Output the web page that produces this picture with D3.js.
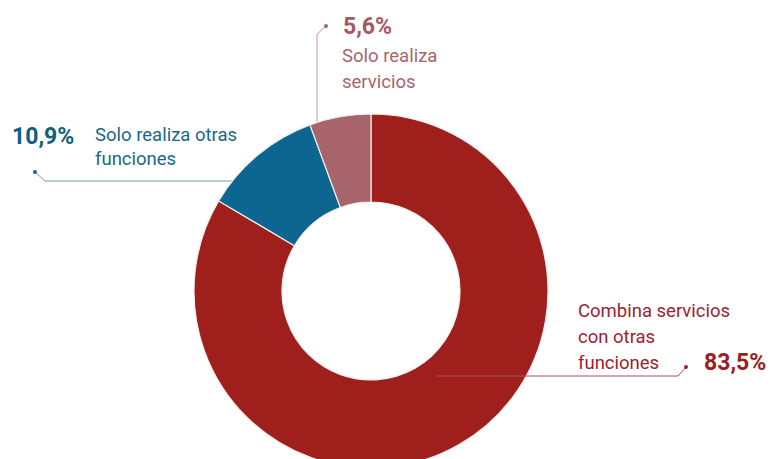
<!DOCTYPE html>
<html>
<head>
<meta charset="utf-8">
<script src="https://cdn.jsdelivr.net/npm/d3@7"></script>
<style>
  html, body { margin: 0; padding: 0; background: #ffffff; }
  svg { display: block; }
  text { font-family: Roboto, "Noto Sans", sans-serif; }
</style>
</head>
<body>
<svg id="chart" width="771" height="459"></svg>
<script>
// Shares of the three groups, in drawing order (clockwise from 12 o'clock)
const categories = [
  ["Combina servicios", "con otras", "funciones"],
  ["Solo realiza otras", "funciones"],
  ["Solo realiza", "servicios"]
];
const values = [83.5, 10.9, 5.6];
const valueLabels = ["83,5%", "10,9%", "5,6%"];
const sliceColors = ["#9e1f1b", "#0c668f", "#a7646b"];
const textColors = ["#9c2230", "#1a6889", "#a6656d"];
const valueColors = ["#9b1d1f", "#0f5f80", "#a25a64"];
const lineColors = ["#b04e5a", "#6f9bb2", "#c29ca1"];

const width = 771, height = 459;
const cx = 371, cy = 291;
const outerR = 177, innerR = 89;

const svg = d3.select("#chart");

const pie = d3.pie().sort(null).value(d => d);
const arcs = pie(values);
const arc = d3.arc().innerRadius(innerR).outerRadius(outerR);

const g = svg.append("g").attr("transform", `translate(${cx},${cy})`);

// Leader lines for the small slices sit behind the ring
const behind = g.append("g");

// Blue slice: horizontal leader off the left edge of the slice
{
  const y = -110;
  const xEdge = -Math.sqrt(outerR * outerR - y * y);
  const dotX = 35 - cx, dotY = 172 - cy;
  behind.append("path")
    .attr("d", `M${xEdge + 6},${y} L${dotX + 10},${y} L${dotX},${dotY}`)
    .attr("fill", "none").attr("stroke", lineColors[1]).attr("stroke-width", 1);
  g.append("circle").attr("cx", dotX).attr("cy", dotY).attr("r", 2).attr("fill", textColors[1]);
}
// Pink slice: vertical leader rising from the slice
{
  const x = 317 - cx;
  const yEdge = -Math.sqrt(outerR * outerR - x * x);
  const dotX = 326 - cx, dotY = 26 - cy;
  behind.append("path")
    .attr("d", `M${x},${yEdge + 6} L${x},${dotY + 8} L${dotX},${dotY}`)
    .attr("fill", "none").attr("stroke", lineColors[2]).attr("stroke-width", 1);
  g.append("circle").attr("cx", dotX).attr("cy", dotY).attr("r", 2).attr("fill", textColors[2]);
}

// The ring
g.selectAll("path.slice")
  .data(arcs)
  .join("path")
  .attr("class", "slice")
  .attr("d", arc)
  .attr("fill", (d, i) => sliceColors[i])
  .attr("stroke", "#f1eeee")
  .attr("stroke-width", 1.2);

// Red slice: leader runs across the ring out to the label
{
  const y = 376 - cy;
  const startX = 437 - cx;
  const dotX = 686 - cx, dotY = 367 - cy;
  g.append("path")
    .attr("d", `M${startX},${y} L${dotX - 8},${y} L${dotX},${dotY}`)
    .attr("fill", "none").attr("stroke", lineColors[0]).attr("stroke-width", 1);
  g.append("circle").attr("cx", dotX).attr("cy", dotY).attr("r", 2).attr("fill", textColors[0]);
}

// Labels
function multiline(x, y, lines, color, size, lh) {
  const t = svg.append("text").attr("x", x).attr("y", y)
    .attr("fill", color).attr("font-size", size);
  lines.forEach((s, i) => {
    t.append("tspan").attr("x", x).attr("dy", i === 0 ? 0 : lh).text(s);
  });
  return t;
}
function valueText(x, y, i) {
  svg.append("text").attr("x", x).attr("y", y)
    .attr("fill", valueColors[i]).attr("font-size", 23).attr("font-weight", 700)
    .text(valueLabels[i]);
}

// Combina servicios con otras funciones — 83,5%
multiline(578, 317, categories[0], textColors[0], 18.5, 26);
valueText(704, 370, 0);

// Solo realiza otras funciones — 10,9%
valueText(12, 144, 1);
multiline(95, 141, categories[1], textColors[1], 18.5, 24);

// Solo realiza servicios — 5,6%
valueText(343, 34, 2);
multiline(342, 62, categories[2], textColors[2], 18.5, 26);
</script>
</body>
</html>
